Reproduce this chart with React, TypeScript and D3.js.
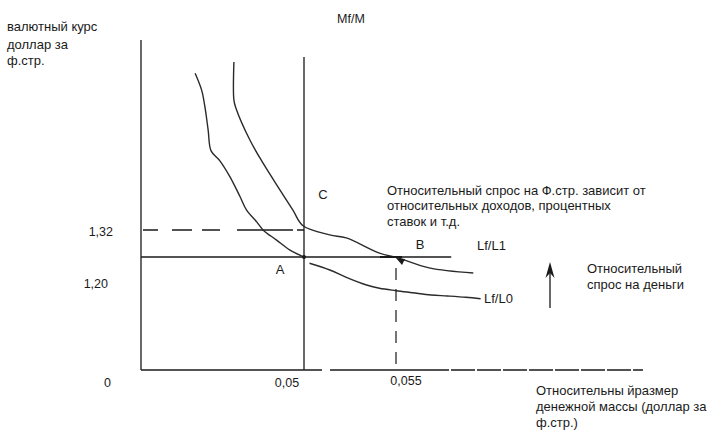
import React from 'react';
import * as d3 from 'd3';

// ---- data (schematic values) ----
const xTickValues = [0.05, 0.055];
const xTickLabels = ['0,05', '0,055'];
const yTickValues = [0, 1.2, 1.32];
const yTickLabels = ['0', '1,20', '1,32'];

const moneyA = 0.05; // relative money supply at A / C
const moneyB = 0.055; // relative money supply at B
const rateAB = 1.26; // exchange rate on line A–B
const rateC = 1.32; // exchange rate at C (dashed level)
const lineABEnd = 0.058;

// upper demand curve (through C and B)
const curveL1X = [0.0285, 0.0285, 0.0291, 0.0334, 0.0374, 0.0426, 0.0466, 0.0497, 0.0514, 0.0523, 0.0541, 0.0551, 0.0568, 0.0592];
const curveL1Y = [1.71, 1.622, 1.604, 1.53, 1.477, 1.415, 1.368, 1.332, 1.311, 1.304, 1.269, 1.258, 1.235, 1.223];

// lower demand curve, part ending at A
const curveL0aX = [0.0166, 0.0186, 0.0196, 0.0206, 0.0215, 0.0242, 0.0273, 0.0304, 0.0324, 0.0355, 0.0375, 0.0416, 0.0457, 0.05];
const curveL0aY = [1.684, 1.645, 1.607, 1.553, 1.505, 1.482, 1.445, 1.399, 1.368, 1.341, 1.322, 1.299, 1.276, 1.26];

// lower demand curve, part right of A (labelled Lf/L0)
const curveL0bX = [0.0503, 0.0514, 0.0523, 0.0534, 0.0541, 0.055, 0.0559, 0.0569, 0.0578, 0.0588, 0.0596];
const curveL0bY = [1.2455, 1.23, 1.213, 1.172, 1.127, 1.094, 1.066, 1.035, 1.021, 1.003, 0.983];

// ---- layout ----
const W = 728;
const H = 433;
const axisX = 141;
const axisY = 370;
const FONT = "'Liberation Sans', Arial, sans-serif";
const INK = '#1a1a1a';

export default function App() {
  const x = d3.scaleLinear().domain([0, moneyA, moneyB]).range([axisX, 304, 396]);
  const y = d3.scaleLinear().domain([0, 1.2, 1.32]).range([axisY, 283, 231]);

  const line = d3
    .line<[number, number]>()
    .x((d) => x(d[0]))
    .y((d) => y(d[1]))
    .curve(d3.curveCatmullRom.alpha(0.5));

  const zip = (a: number[], b: number[]) => a.map((v, i) => [v, b[i]] as [number, number]);

  const xb = x(moneyB);
  const yb = y(rateAB) + 1;

  const yTickDx = [-30, -33, -28];
  const yTickDy = [17, 5, 5];
  const xTickDx = [-17, 10];
  const xTickDy = [17, 15];

  return (
    <svg width={W} height={H} style={{ position: 'absolute', left: 0, top: 0, background: '#fff' }}>
      <g fill="none" stroke={INK} strokeWidth={1.3}>
        {/* y axis */}
        <line x1={axisX} y1={40} x2={axisX} y2={axisY} />
        {/* x axis */}
        <line x1={axisX} y1={axisY} x2={322} y2={axisY} />
        <line x1={330} y1={axisY} x2={425} y2={axisY} />
        <line x1={425} y1={axisY} x2={643} y2={axisY} strokeDasharray="24,2" />
        {/* vertical at 0.05 */}
        <line x1={x(moneyA)} y1={57} x2={x(moneyA)} y2={axisY} />
        {/* horizontal A–B */}
        <line x1={axisX} y1={y(rateAB)} x2={x(lineABEnd)} y2={y(rateAB)} />
        {/* dashed level 1.32 */}
        <line
          x1={axisX + 2}
          y1={y(rateC) - 1}
          x2={x(moneyA)}
          y2={y(rateC) - 1}
          strokeDasharray="15,14,20,10,18,17,56,4,10"
        />
        {/* dashed vertical at 0.055 */}
        <line x1={xb} y1={268} x2={xb} y2={axisY} strokeDasharray="12,9" strokeWidth={1.2} />
      </g>

      <g fill="none" stroke="#2a2a2a" strokeWidth={1.4}>
        <path d={line(zip(curveL1X, curveL1Y)) || ''} />
        <path d={line(zip(curveL0aX, curveL0aY)) || ''} />
        <path d={line(zip(curveL0bX, curveL0bY)) || ''} />
      </g>

      {/* arrowhead at B */}
      <path d={`M${xb},${yb} L${xb + 9},${yb + 1} L${xb + 6},${yb + 7} Z`} fill={INK} />
      <line x1={xb - 16} y1={y(rateAB)} x2={xb + 6} y2={y(rateAB)} stroke={INK} strokeWidth={2} />
      {/* point A */}
      <circle cx={x(moneyA)} cy={y(rateAB)} r={2} fill={INK} />

      {/* relative demand arrow */}
      <line x1={550} y1={308} x2={550} y2={270} stroke={INK} strokeWidth={1.3} />
      <path d="M550,262 L545.5,278 L550,273 L554.5,278 Z" fill={INK} />

      <g fontFamily={FONT} fill={INK} fontSize={13}>
        {yTickValues.map((v, i) => (
          <text key={'y' + i} x={axisX + yTickDx[i]} y={y(v) + yTickDy[i]} textAnchor="end" fontSize={12.5}>
            {yTickLabels[i]}
          </text>
        ))}
        {xTickValues.map((v, i) => (
          <text key={'x' + i} x={x(v) + xTickDx[i]} y={axisY + xTickDy[i]} textAnchor="middle" fontSize={12.5}>
            {xTickLabels[i]}
          </text>
        ))}

        <text x={7} y={31}>валютный курс</text>
        <text x={7} y={49}>доллар за</text>
        <text x={7} y={65}>ф.стр.</text>

        <text x={351} y={23} textAnchor="middle" fontSize={12.5}>Mf/M</text>

        <text x={323} y={199} textAnchor="middle">C</text>
        <text x={280} y={274} textAnchor="middle">A</text>
        <text x={420} y={249} textAnchor="middle">B</text>
        <text x={477} y={250}>Lf/L1</text>
        <text x={484} y={303}>Lf/L0</text>

        <text x={387} y={195}>Относительный спрос на Ф.стр. зависит от</text>
        <text x={387} y={210}>относительных доходов, процентных</text>
        <text x={387} y={226}>ставок и т.д.</text>

        <text x={587} y={273}>Относительный</text>
        <text x={587} y={289}>спрос на деньги</text>

        <text x={536} y={395}>Относительны йразмер</text>
        <text x={536} y={411}>денежной массы (доллар за</text>
        <text x={536} y={427}>ф.стр.)</text>
      </g>
    </svg>
  );
}
